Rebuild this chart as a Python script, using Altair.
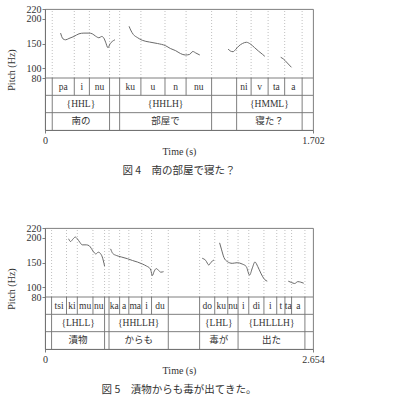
import altair as alt
import pandas as pd

SERIF = "Liberation Serif, Times New Roman, Noto Sans CJK JP"
JP = "Noto Sans CJK JP"

# ---------------- Figure 4 data ----------------
f1_total = 1.702
f1_c1_t = [0.099, 0.114, 0.131, 0.152, 0.184, 0.216, 0.247, 0.279, 0.300, 0.321, 0.343, 0.360, 0.374, 0.385, 0.400, 0.413, 0.427, 0.444]
f1_c1_hz = [171.1, 159.5, 157.5, 160.2, 164.3, 169.7, 171.1, 171.1, 169.7, 165.0, 161.6, 164.3, 160.9, 152.7, 141.2, 149.3, 154.1, 157.5]
f1_c2_t = [0.534, 0.544, 0.561, 0.586, 0.618, 0.663, 0.714, 0.766, 0.796, 0.830, 0.860, 0.891, 0.917, 0.939, 0.958, 0.983]
f1_c2_hz = [184.9, 177.4, 168.3, 162.2, 156.5, 153.0, 150.0, 145.5, 139.9, 135.4, 129.7, 126.7, 127.7, 133.8, 130.7, 126.7]
f1_c3_t = [1.163, 1.177, 1.194, 1.211, 1.231, 1.254, 1.279, 1.304, 1.330, 1.355, 1.381, 1.396]
f1_c3_hz = [138.8, 134.8, 133.4, 137.9, 145.0, 150.0, 152.5, 149.0, 141.9, 134.8, 128.1, 124.0]
f1_c4_t = [1.497, 1.514, 1.533, 1.565]
f1_c4_hz = [122.0, 118.6, 112.5, 101.7]

f1_seg_labels = ["pa", "i", "nu", "ku", "u", "n", "nu", "ni", "v", "ta", "a"]
f1_seg_start = [0.046, 0.186, 0.282, 0.474, 0.609, 0.762, 0.896, 1.217, 1.309, 1.417, 1.522]
f1_seg_end = [0.186, 0.282, 0.410, 0.609, 0.762, 0.896, 1.058, 1.309, 1.417, 1.522, 1.633]
f1_tone_labels = ["{HHL}", "{HHLH}", "{HMML}"]
f1_word_labels = ["南の", "部屋で", "寝た？"]
f1_word_start = [0.046, 0.474, 1.217]
f1_word_end = [0.410, 1.058, 1.633]
f1_caption = "図 4　南の部屋で寝た？"

# ---------------- Figure 5 data ----------------
f2_total = 2.654
f2_c1_t = [0.234, 0.253, 0.275, 0.300, 0.320, 0.345, 0.369, 0.409, 0.439, 0.458, 0.478, 0.503, 0.528, 0.548, 0.567, 0.590]
f2_c1_hz = [198.1, 192.6, 197.1, 201.6, 198.1, 191.0, 185.8, 185.8, 183.8, 178.7, 172.6, 167.4, 170.9, 168.5, 161.3, 142.8]
f2_c2_t = [0.650, 0.671, 0.706, 0.756, 0.817, 0.867, 0.916, 0.966, 1.006, 1.036, 1.048, 1.062, 1.082, 1.102, 1.127, 1.147, 1.174]
f2_c2_hz = [177.6, 168.4, 164.3, 161.2, 157.7, 154.0, 150.9, 146.8, 142.7, 138.6, 134.5, 123.3, 132.5, 137.6, 133.5, 130.4, 131.4]
f2_c3_t = [1.557, 1.592, 1.622, 1.642, 1.673]
f2_c3_hz = [158.6, 154.1, 144.9, 150.0, 155.1]
f2_c4_t = [1.729, 1.749, 1.772, 1.805, 1.854, 1.904, 1.953, 1.993, 2.026, 2.053, 2.079, 2.107, 2.137, 2.176, 2.201]
f2_c4_hz = [189.9, 175.6, 160.2, 152.0, 148.3, 149.6, 146.9, 141.8, 124.4, 138.7, 151.0, 141.8, 128.5, 115.3, 112.1]
f2_c5_t = [2.409, 2.439, 2.473, 2.503, 2.533, 2.562]
f2_c5_hz = [112.1, 109.6, 107.4, 111.2, 110.1, 108.0]

f2_seg_labels = ["tsi", "ki", "mu", "nu", "ka", "a", "ma", "i", "du", "do", "ku", "nu", "i", "di", "i", "t", "ta", "a"]
f2_seg_start = [0.065, 0.213, 0.320, 0.475, 0.634, 0.739, 0.830, 0.958, 1.055, 1.531, 1.681, 1.810, 1.912, 2.018, 2.168, 2.295, 2.376, 2.442]
f2_seg_end = [0.213, 0.320, 0.475, 0.590, 0.739, 0.830, 0.958, 1.055, 1.221, 1.681, 1.810, 1.912, 2.018, 2.168, 2.295, 2.376, 2.442, 2.574]
f2_tone_labels = ["{LHLL}", "{HHLLH}", "{LHL}", "{LHLLLH}"]
f2_word_labels = ["漬物", "からも", "毒が", "出た"]
f2_word_start = [0.065, 0.634, 1.531, 1.912]
f2_word_end = [0.590, 1.221, 1.912, 2.574]
f2_caption = "図 5　漬物からも毒が出てきた。"

PITCH_TICKS = [80, 100, 150, 200, 220]

# y scale: pitch area 80..220 Hz, three annotation tiers below it
TIER_H = 140 / 69 * 17.33
Y_MIN = 80 - 3 * TIER_H
LINE = "#707070"


def make_figure(total, curves, seg_labels, seg_start, seg_end,
                tone_labels, word_labels, word_start, word_end, caption):
    x_enc = alt.X("t:Q", scale=alt.Scale(domain=[0, total], nice=False, zero=False),
                  axis=alt.Axis(values=[0, total], format=".3~f", title="Time (s)",
                                tickSize=3, labelFlush=False, grid=False, labelOverlap=False,
                                labelPadding=2, titlePadding=1))
    y_enc = alt.Y("v:Q", scale=alt.Scale(domain=[Y_MIN, 220], nice=False, zero=False),
                  axis=alt.Axis(values=PITCH_TICKS, title="Pitch (Hz)", tickSize=3,
                                grid=False, labelPadding=1, titlePadding=10,
                                labelOverlap=False))

    # pitch contours
    rows = []
    for k, (ts, hz) in enumerate(curves):
        for t, h in zip(ts, hz):
            rows.append({"t": t, "v": h, "seg": k})
    pitch = alt.Chart(pd.DataFrame(rows)).mark_line(
        color="#6a6a6a", strokeWidth=1.0, interpolate="monotone"
    ).encode(x=x_enc, y=y_enc, detail="seg:N")

    # boundaries
    b1 = sorted(set(seg_start) | set(seg_end))
    b23 = sorted(set(word_start) | set(word_end))
    dotted = alt.Chart(pd.DataFrame({"t": b1, "v": [80] * len(b1), "v2": [220] * len(b1)})).mark_rule(
        color="#b0b0b0", strokeWidth=0.8, strokeDash=[1, 2]
    ).encode(x=x_enc, y=y_enc, y2="v2:Q")

    vrows = []
    for tier, bs in enumerate([b1, b23, b23]):
        top = 80 - tier * TIER_H
        for b in bs:
            vrows.append({"t": b, "v": top, "v2": top - TIER_H})
    vrules = alt.Chart(pd.DataFrame(vrows)).mark_rule(color=LINE, strokeWidth=0.9).encode(
        x=x_enc, y=y_enc, y2="v2:Q")

    hl = [80 - i * TIER_H for i in range(3)]
    hrules = alt.Chart(pd.DataFrame({"t": [0] * 3, "t2": [total] * 3, "v": hl})).mark_rule(
        color=LINE, strokeWidth=0.9).encode(x=x_enc, x2="t2:Q", y=y_enc)

    # tier texts
    trows = []
    for lab, s, e in zip(seg_labels, seg_start, seg_end):
        trows.append({"t": (s + e) / 2, "v": 80 - 0.5 * TIER_H, "lab": lab, "tier": 1})
    for lab, s, e in zip(tone_labels, word_start, word_end):
        trows.append({"t": (s + e) / 2, "v": 80 - 1.5 * TIER_H, "lab": lab, "tier": 2})
    for lab, s, e in zip(word_labels, word_start, word_end):
        trows.append({"t": (s + e) / 2, "v": 80 - 2.5 * TIER_H, "lab": lab, "tier": 3})
    tdf = pd.DataFrame(trows)
    txt_lat = alt.Chart(tdf[tdf.tier < 3]).mark_text(
        font=SERIF, fontSize=9.5, color="#333", baseline="middle"
    ).encode(x=x_enc, y=y_enc, text="lab:N")
    txt_jp = alt.Chart(tdf[tdf.tier == 3]).mark_text(
        font=JP, fontSize=9.5, color="#333", baseline="middle", dy=-0.5
    ).encode(x=x_enc, y=y_enc, text="lab:N")

    return alt.layer(dotted, vrules, hrules, pitch, txt_lat, txt_jp).properties(
        width=268, height=121,
        title=alt.TitleParams(caption, orient="bottom", anchor="middle", frame="group",
                              font=JP, fontSize=10.5, fontWeight="normal", color="#333",
                              offset=10),
    )


fig1 = make_figure(
    f1_total,
    [(f1_c1_t, f1_c1_hz), (f1_c2_t, f1_c2_hz), (f1_c3_t, f1_c3_hz), (f1_c4_t, f1_c4_hz)],
    f1_seg_labels, f1_seg_start, f1_seg_end,
    f1_tone_labels, f1_word_labels, f1_word_start, f1_word_end, f1_caption)
fig2 = make_figure(
    f2_total,
    [(f2_c1_t, f2_c1_hz), (f2_c2_t, f2_c2_hz), (f2_c3_t, f2_c3_hz), (f2_c4_t, f2_c4_hz), (f2_c5_t, f2_c5_hz)],
    f2_seg_labels, f2_seg_start, f2_seg_end,
    f2_tone_labels, f2_word_labels, f2_word_start, f2_word_end, f2_caption)

chart = alt.vconcat(fig1, fig2, spacing=45).properties(
    padding={"left": 5, "top": 3, "right": 5, "bottom": 3},
    background="white",
).configure_view(
    stroke=LINE, strokeWidth=0.9
).configure_axis(
    domainColor=LINE, tickColor=LINE, domainWidth=0.9, tickWidth=0.9,
    labelFont=SERIF, labelFontSize=10, labelColor="#333",
    titleFont=SERIF, titleFontSize=10, titleFontWeight="normal", titleColor="#333",
)

chart.save("out.html", embed_options={"renderer": "svg", "actions": False})
